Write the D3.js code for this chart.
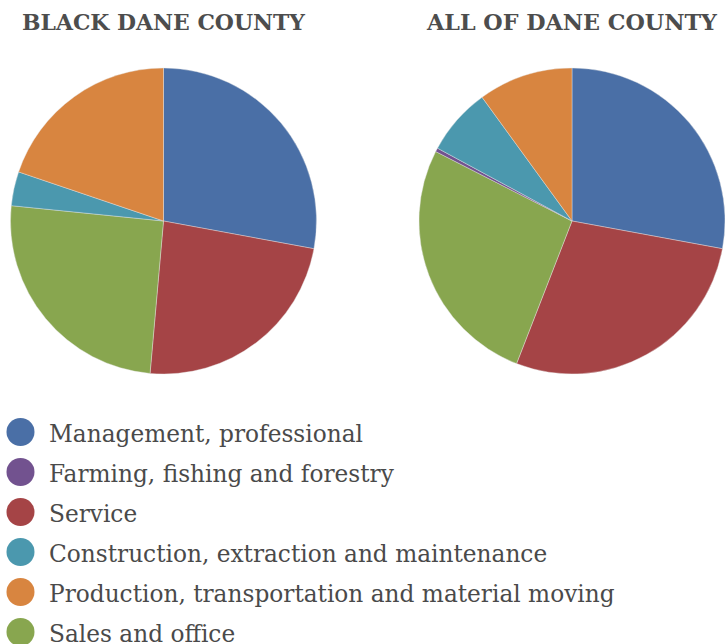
<!DOCTYPE html>
<html>
<head>
<meta charset="utf-8">
<script src="https://cdn.jsdelivr.net/npm/d3@7"></script>
<style>
  body { margin: 0; background: #fff; }
  svg { display: block; }
</style>
</head>
<body>
<div class="container"></div>
<script>
const WIDTH = 725,
    HEIGHT = 644,
    RADIUS = 153;

// pie order (clockwise from 12 o'clock)
var sliceOrder = ['Management, professional', 'Service', 'Sales and office',
    'Farming, fishing and forestry', 'Construction, extraction and maintenance',
    'Production, transportation and material moving'];
// percentages, same order as sliceOrder
var blackDane = [27.9, 23.5, 25.2, 0, 3.6, 19.8];
var allDane = [27.9, 28.0, 26.6, 0.4, 7.1, 10.0];

var titles = ['BLACK DANE COUNTY', 'ALL OF DANE COUNTY'];

var legendOrder = ['Management, professional', 'Farming, fishing and forestry', 'Service',
    'Construction, extraction and maintenance', 'Production, transportation and material moving',
    'Sales and office'];
var colors = ['#4a6fa6', '#72528f', '#a54446', '#4b98ae', '#d88540', '#88a64f'];

var translate = (x, y) => "translate(" + x + "," + y + ")";

var color = d3.scaleOrdinal().domain(legendOrder).range(colors);

var svg = d3.select('.container').append('svg')
    .attr('width', WIDTH)
    .attr('height', HEIGHT);

var pie = d3.pie().sort(null).value(d => d.v);
var arc = d3.arc().innerRadius(0).outerRadius(RADIUS);

var centers = [[163.5, 221], [572, 221]];
var titleWidths = [283, 290];

[blackDane, allDane].forEach((vals, k) => {
    var data = sliceOrder.map((c, i) => ({ c: c, v: vals[i] }));
    var g = svg.append('g').attr('transform', translate(centers[k][0], centers[k][1]));
    g.selectAll('path')
        .data(pie(data))
        .enter()
        .append('path')
        .attr('d', arc)
        .attr('fill', d => color(d.data.c))
        .attr('stroke', '#e8e8e8')
        .attr('stroke-width', d => d.data.v > 0 ? 0.4 : 0);

    svg.append('text')
        .attr('x', centers[k][0])
        .attr('y', 29.5)
        .attr('text-anchor', 'middle')
        .attr('font-family', 'DejaVu Serif')
        .attr('font-weight', 'bold')
        .attr('font-size', 22)
        .attr('fill', '#4d4d4d')
        .attr('textLength', titleWidths[k])
        .attr('lengthAdjust', 'spacingAndGlyphs')
        .text(titles[k]);
});

var legend = svg.append('g').attr('transform', translate(0, 432));
var rows = legend.selectAll('g')
    .data(legendOrder)
    .enter()
    .append('g')
    .attr('transform', (d, i) => translate(0, i * 40));

rows.append('circle')
    .attr('cx', 20.5)
    .attr('cy', 0)
    .attr('r', 14)
    .attr('fill', d => color(d));

var labels = rows.append('text')
    .attr('x', 49)
    .attr('y', 9.5)
    .attr('font-family', 'DejaVu Serif')
    .attr('font-size', 20)
    .attr('fill', '#4a4a4a')
    .text(d => d);

// fit font size so the longest label spans like the reference
var longest = labels.filter(d => d === legendOrder[4]).node();
var w = longest.getComputedTextLength();
labels.attr('font-size', 20 * 566 / w);
</script>
</body>
</html>
